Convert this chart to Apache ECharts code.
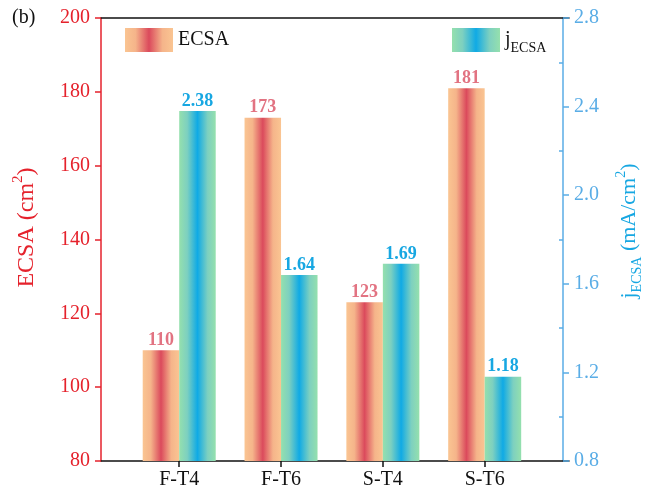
<!DOCTYPE html>
<html>
<head>
<meta charset="utf-8">
<script src="https://cdn.jsdelivr.net/npm/echarts@6/dist/echarts.min.js"></script>
<style>html,body{margin:0;padding:0;background:#fff}#c{width:652px;height:495px}</style>
</head>
<body>
<div id="c"></div>
<script>
const categories = ['F-T4', 'F-T6', 'S-T4', 'S-T6'];
const ecsaValues = [110, 173, 123, 181];
const jValues = [2.38, 1.64, 1.69, 1.18];
const ecsaTicks = { min: 80, max: 200, interval: 20 };
const jTicks = { min: 0.8, max: 2.8, interval: 0.4 };

const FONT = '"Liberation Serif","Times New Roman",serif';
const redGrad = {
  type: 'linear', x: 0, y: 0, x2: 1, y2: 0,
  colorStops: [
    { offset: 0, color: '#fac592' }, { offset: 0.22, color: '#f5b48a' },
    { offset: 0.5, color: '#db4a5c' }, { offset: 0.78, color: '#f5b48a' },
    { offset: 1, color: '#fac592' }
  ]
};
const blueGrad = {
  type: 'linear', x: 0, y: 0, x2: 1, y2: 0,
  colorStops: [
    { offset: 0, color: '#95e0ad' }, { offset: 0.22, color: '#7dd0c0' },
    { offset: 0.5, color: '#0faae5' }, { offset: 0.78, color: '#7dd0c0' },
    { offset: 1, color: '#95e0ad' }
  ]
};
const RED = '#e5222c';
const BLUE_AX = '#5aade6';
const BLUE_TXT = '#17a7e2';

const chart = echarts.init(document.getElementById('c'));
chart.setOption({
  animation: false,
  title: { text: '(b)', left: 12, top: 8, padding: 0, textStyle: { fontFamily: FONT, fontSize: 20, fontWeight: 'normal', color: '#111' } },
  legend: [
    { data: ['ECSA'], left: 125, top: 28, padding: 0, itemWidth: 48, itemHeight: 24, itemGap: 0,
      icon: 'rect', textStyle: { fontFamily: FONT, fontSize: 20, color: '#111' } },
    { data: ['jECSA'], left: 452, top: 28, padding: 0, itemWidth: 48, itemHeight: 24, itemGap: 0,
      icon: 'rect',
      formatter: () => '{m|j}{s|ECSA}',
      textStyle: { fontFamily: FONT, color: '#111',
        rich: { m: { fontFamily: FONT, fontSize: 20, color: '#111', lineHeight: 30, verticalAlign: 'middle' },
                s: { fontFamily: FONT, fontSize: 14, color: '#111', lineHeight: 30, verticalAlign: 'bottom' } } } }
  ],
  grid: [
    { left: 101, right: 83, top: 18, bottom: 34 },
    { left: 128.3, right: 110.4, top: 18, bottom: 34 }
  ],
  xAxis: [
    { gridIndex: 0, type: 'value', min: 0, max: 1, position: 'bottom',
      axisLine: { show: true, lineStyle: { color: '#111', width: 1.5 } },
      axisTick: { show: false }, axisLabel: { show: false }, splitLine: { show: false } },
    { gridIndex: 0, type: 'value', min: 0, max: 1, position: 'top',
      axisLine: { show: true, lineStyle: { color: '#111', width: 1.5 } },
      axisTick: { show: false }, axisLabel: { show: false }, splitLine: { show: false } },
    { gridIndex: 1, type: 'category', data: categories, position: 'bottom',
      axisLine: { show: false },
      axisTick: { show: true, alignWithLabel: true, length: 6, lineStyle: { color: '#111', width: 1.5 } },
      axisLabel: { fontFamily: FONT, fontSize: 20, color: '#111', margin: 9 },
      splitLine: { show: false } }
  ],
  yAxis: [
    { gridIndex: 1, type: 'value', position: 'left', offset: 27.3,
      min: ecsaTicks.min, max: ecsaTicks.max, interval: ecsaTicks.interval,
      name: '{m|ECSA (cm}{p|2}{m|)}', nameLocation: 'middle', nameGap: 58, nameRotate: 90,
      nameTextStyle: { fontFamily: FONT, color: RED, padding: [0, 0, 0, 24],
        rich: { m: { fontFamily: FONT, fontSize: 24, color: RED, lineHeight: 32, verticalAlign: 'middle' },
                p: { fontFamily: FONT, fontSize: 15, color: RED, lineHeight: 32, verticalAlign: 'top' } } },
      axisLine: { show: true, lineStyle: { color: RED, width: 1.5 } },
      axisTick: { show: true, length: 6, lineStyle: { color: RED, width: 1.5 } },
      axisLabel: { fontFamily: FONT, fontSize: 20, color: RED, margin: 11 },
      splitLine: { show: false } },
    { gridIndex: 1, type: 'value', position: 'right', offset: 27.4,
      min: jTicks.min, max: jTicks.max, interval: jTicks.interval,
      name: '{m|j}{s|ECSA}{m| (mA/cm}{p|2}{m|)}', nameLocation: 'middle', nameGap: 51, nameRotate: 90,
      nameTextStyle: { fontFamily: FONT, color: BLUE_TXT, padding: [0, 0, 0, 17],
        rich: { m: { fontFamily: FONT, fontSize: 22, color: BLUE_TXT, lineHeight: 30, verticalAlign: 'middle' },
                s: { fontFamily: FONT, fontSize: 14, color: BLUE_TXT, lineHeight: 30, verticalAlign: 'bottom' },
                p: { fontFamily: FONT, fontSize: 14, color: BLUE_TXT, lineHeight: 30, verticalAlign: 'top' } } },
      axisLine: { show: true, lineStyle: { color: BLUE_AX, width: 1.5 } },
      axisTick: { show: true, length: 6, lineStyle: { color: BLUE_AX, width: 1.5 } },
      minorTick: { show: true, splitNumber: 2, length: -4, lineStyle: { color: BLUE_AX, width: 1.5 } },
      axisLabel: { fontFamily: FONT, fontSize: 20, color: BLUE_AX, margin: 11, formatter: v => v.toFixed(1) },
      splitLine: { show: false } },
    { gridIndex: 0, type: 'value', min: 0, max: 1, show: false }
  ],
  series: [
    { name: 'ECSA', type: 'bar', xAxisIndex: 2, yAxisIndex: 0, data: ecsaValues,
      barWidth: 36.5, barGap: '0%', itemStyle: { color: redGrad },
      label: { show: true, position: 'top', distance: 1, fontFamily: FONT, fontSize: 18, fontWeight: 'bold', color: '#e27382' } },
    { name: 'jECSA', type: 'bar', xAxisIndex: 2, yAxisIndex: 1, data: jValues,
      barWidth: 36.5, barGap: '0%', itemStyle: { color: blueGrad },
      label: { show: true, position: 'top', distance: 1, fontFamily: FONT, fontSize: 18, fontWeight: 'bold', color: BLUE_TXT,
        formatter: p => p.value.toFixed(2) } }
  ]
});
</script>
</body>
</html>
